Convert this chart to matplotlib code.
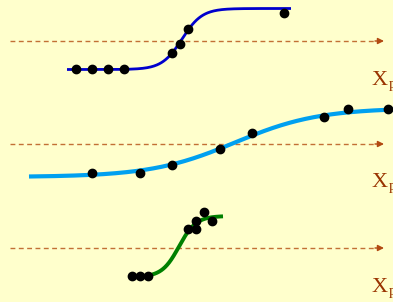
import matplotlib.pyplot as plt
import numpy as np

# three panels: observed points and the fitted logistic curve through them
top_x = [76, 92, 108, 124, 172, 180, 188, 284]
top_y = [69, 69, 69, 69, 53, 44, 29, 13]
mid_x = [92, 140, 172, 220, 252, 324, 348, 388]
mid_y = [173, 173, 165, 149, 133, 117, 109, 109]
bot_x = [132, 140, 148, 188, 196, 196, 204, 212]
bot_y = [276, 276, 276, 229, 229, 221, 212, 221]

# logistic fits: (x start, x end, low, high, centre, scale)
top_fit = (67, 291, 69.5, 8.5, 182, 10)
mid_fit = (29, 393, 177, 108, 235, 42)
bot_fit = (152, 223, 277, 216, 179, 8.5)

axis_y = [41, 144, 248]
label_y = [85, 187, 292]

bg = '#ffffcc'
arrow_col = '#c27035'
label_col = '#993300'

fig = plt.figure(figsize=(3.93, 3.02), dpi=100)
fig.patch.set_facecolor(bg)
ax = fig.add_axes([0, 0, 1, 1])
ax.set_facecolor(bg)
ax.set_xlim(0, 393)
ax.set_ylim(302, 0)
ax.axis('off')

for y in axis_y:
    ax.plot([10, 378], [y, y], ls=(0, (3.5, 2.5)), color=arrow_col, lw=1.0)
    ax.annotate('', xy=(384, y), xytext=(375, y),
                arrowprops=dict(arrowstyle='-|>', color='#b24a12', lw=1.0,
                                mutation_scale=9, shrinkA=0, shrinkB=0))

def logistic(fit):
    x0, x1, lo, hi, c, s = fit
    x = np.linspace(x0, x1, 300)
    return x, lo + (hi - lo) / (1 + np.exp(-(x - c) / s))

for fit, xs, ys, col, lw in [(top_fit, top_x, top_y, '#0000cc', 2.0),
                             (mid_fit, mid_x, mid_y, '#00a0f0', 3.0),
                             (bot_fit, bot_x, bot_y, '#008000', 2.8)]:
    cx, cy = logistic(fit)
    ax.plot(cx, cy, color=col, lw=lw, solid_capstyle='butt', zorder=2)
    ax.plot(xs, ys, 'o', color='black', ms=6, zorder=3)

for y in label_y:
    ax.text(371.5, y, 'X', fontsize=16, family='Liberation Serif',
            color=label_col, va='baseline', ha='left')
    ax.text(389, y + 3, 'p', fontsize=11, family='Liberation Serif',
            color=label_col, va='baseline', ha='left')

fig.savefig('out.png', dpi=100, facecolor=bg)
